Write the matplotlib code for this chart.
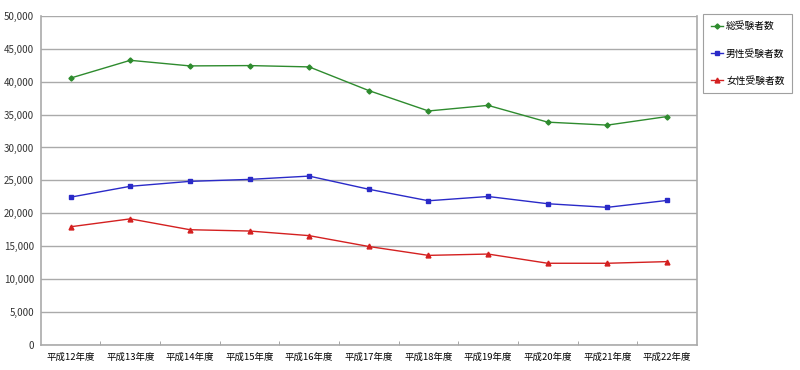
import matplotlib
matplotlib.use("Agg")
import matplotlib.pyplot as plt
from matplotlib.ticker import FuncFormatter, MultipleLocator

plt.rcParams['font.family'] = ['Noto Sans CJK JP', 'DejaVu Sans']

years = ["平成12年度", "平成13年度", "平成14年度", "平成15年度", "平成16年度", "平成17年度",
         "平成18年度", "平成19年度", "平成20年度", "平成21年度", "平成22年度"]
total = [40550, 43250, 42400, 42450, 42250, 38650, 35550, 36400, 33850, 33400, 34700]
male = [22450, 24100, 24850, 25150, 25650, 23650, 21900, 22550, 21450, 20900, 21950]
female = [17950, 19150, 17500, 17300, 16600, 14950, 13600, 13800, 12400, 12400, 12650]

fig = plt.figure(figsize=(8, 3.7), dpi=100)
ax = fig.add_axes([0.051, 0.068, 0.82, 0.889])

x = list(range(len(years)))
ax.plot(x, total, color="#2e8b2e", marker="D", markersize=2.6, lw=1.0, label="総受験者数")
ax.plot(x, male, color="#2a2ac8", marker="s", markersize=3, lw=1.0, label="男性受験者数")
ax.plot(x, female, color="#d42020", marker="^", markersize=3.5, lw=1.0, label="女性受験者数")

ax.set_xlim(-0.5, len(years) - 0.5)
ax.set_ylim(0, 50000)
ax.yaxis.set_major_locator(MultipleLocator(5000))
ax.yaxis.set_major_formatter(FuncFormatter(lambda v, p: f"{int(v):,}"))
ax.set_xticks(x)
ax.set_xticklabels(years)
ax.set_xticks([i + 0.5 for i in range(len(years) - 1)], minor=True)
ax.tick_params(axis="x", which="major", length=0, labelsize=6.8, pad=6)
ax.tick_params(axis="x", which="minor", length=3, direction="in", color="#999999")
ax.tick_params(axis="y", length=0, labelsize=7, pad=5, labelcolor="#333333")

ax.grid(axis="y", color="#aaaaaa", lw=1)
ax.set_axisbelow(True)
ax.spines["top"].set_visible(False)
for s in ["left", "right", "bottom"]:
    ax.spines[s].set_color("#aaaaaa")
    ax.spines[s].set_linewidth(1.2)

leg = fig.legend(loc="upper left", bbox_to_anchor=(0.879, 0.963), fontsize=7,
                 frameon=True, fancybox=False, edgecolor="#888888", labelspacing=1.75,
                 handlelength=1.2, borderpad=0.8, handletextpad=0.35, borderaxespad=0)
leg.get_frame().set_linewidth(0.8)

fig.savefig("out.png", dpi=100)
